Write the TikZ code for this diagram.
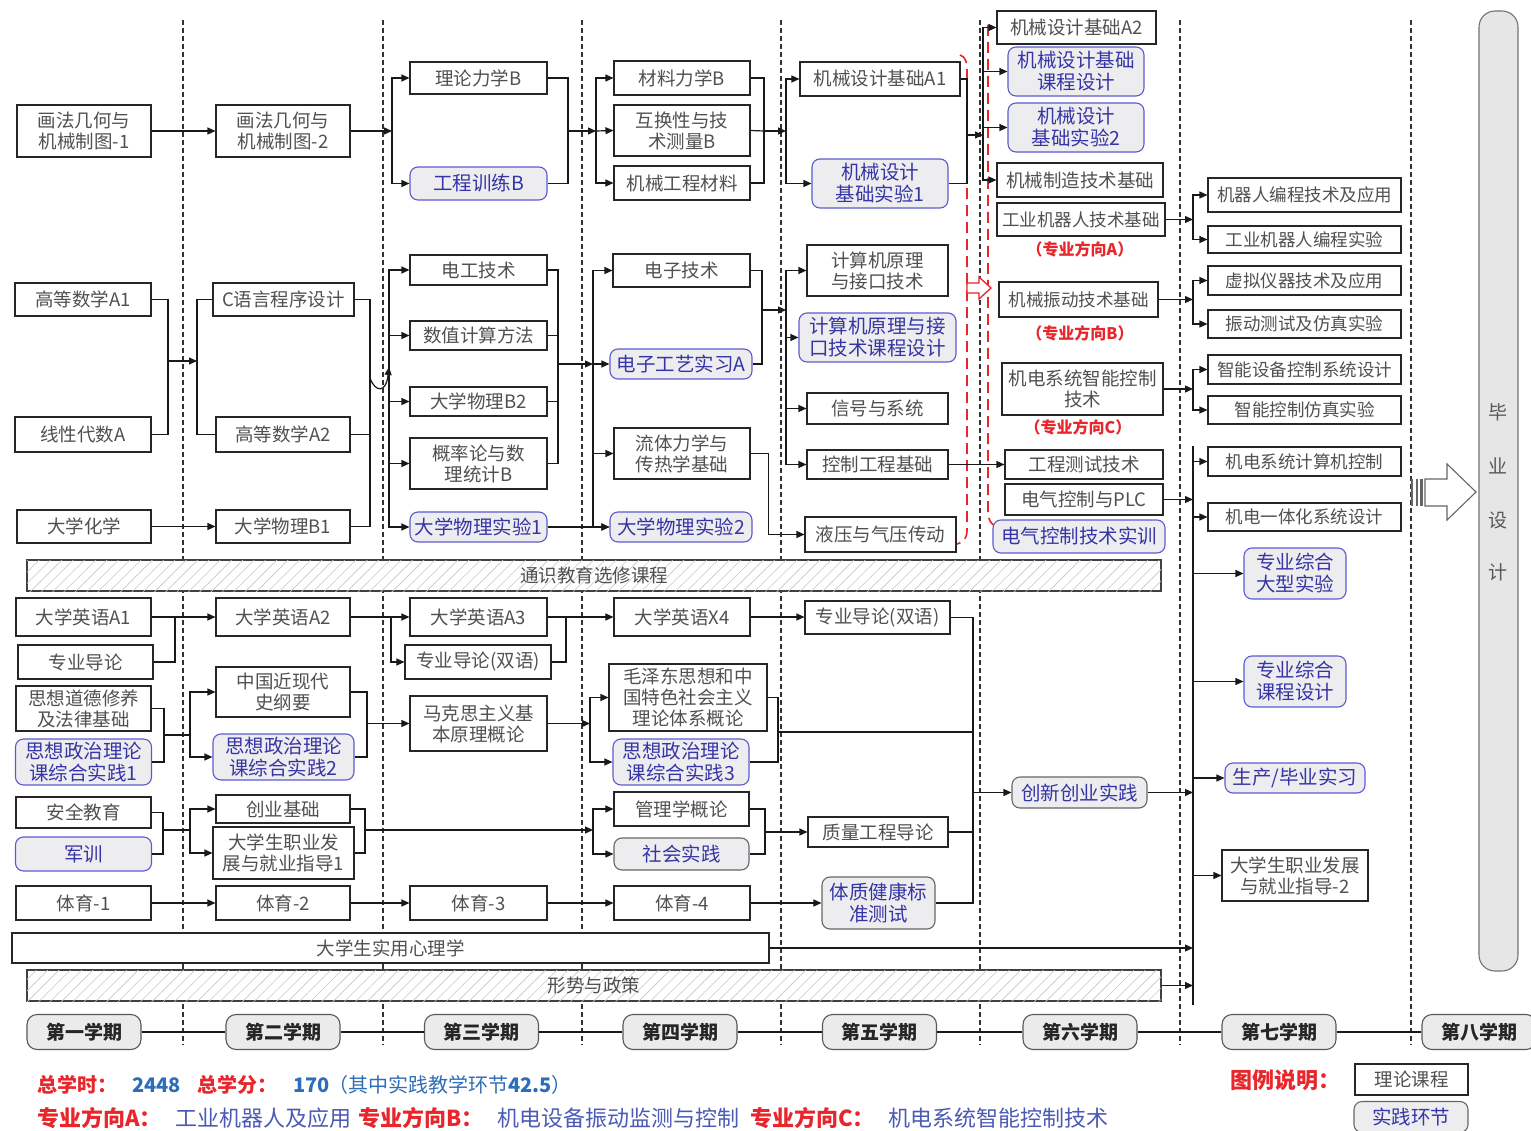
\documentclass[tikz,border=0pt]{standalone}
\usepackage{fontspec}
\setmainfont{Noto Sans CJK SC}
\usetikzlibrary{arrows.meta,patterns.meta}
\definecolor{thtxt}{HTML}{505050}
\definecolor{prtxt}{HTML}{3535A5}
\definecolor{prb}{HTML}{5B5BD0}
\definecolor{prfill}{HTML}{EDEDF0}
\definecolor{rd}{HTML}{E8262B}
\definecolor{bl}{HTML}{2E6DB8}
\definecolor{bl2}{HTML}{4B5AB5}
\definecolor{semfill}{HTML}{EBEBEB}
\definecolor{gdfill}{HTML}{E6E6E6}
\newcommand\thfs{\fontsize{18.5}{21}\selectfont}
\newcommand\smfs{\fontsize{17.5}{21}\selectfont}
\newcommand\prfs{\fontsize{19.5}{22}\selectfont}
\tikzset{
 wh/.style 2 args={minimum width=#1pt, minimum height=#2pt},
 th/.style={draw=black!85, line width=1.1pt, fill=white, inner sep=0pt, align=center, font=\thfs, text=thtxt},
 pr/.style={draw=prb, line width=1.1pt, fill=prfill, rounded corners=8pt, inner sep=0pt, align=center, font=\prfs, text=prtxt},
 prg/.style={pr, draw=black!60},
 ban/.style={draw=black!75, line width=1.1pt, fill=white, inner sep=0pt, font=\thfs, text=thtxt,
   postaction={pattern={Lines[angle=45,distance=8pt,line width=0.6pt]}, pattern color=black!22}},
 sem/.style={draw=black!65, fill=semfill, rounded corners=10pt, line width=1.1pt, inner sep=0pt,
   font=\fontsize{19}{22}\selectfont\bfseries, text=black!85, minimum width=114pt, minimum height=35pt},
 dir/.style={inner sep=0pt, text=rd, font=\fontsize{16}{18}\selectfont\bfseries},
 byt/.style={inner sep=0pt, text=black!65, font=\fontsize{19}{22}\selectfont},
 bt/.style={anchor=west, inner sep=0pt, font=\fontsize{20}{24}\selectfont},
 bt2/.style={anchor=west, inner sep=0pt, font=\fontsize{22}{26}\selectfont},
 ln/.style={line width=1.2pt, draw=black!90},
 arr/.style={ln, -{Triangle[length=8pt,width=7pt]}},
 sep/.style={line width=1.2pt, draw=black!80, dash pattern=on 5pt off 3pt},
 rdash/.style={line width=1.6pt, draw=rd, dash pattern=on 11pt off 6pt},
}
\begin{document}
\begin{tikzpicture}[x=1pt,y=-1pt]
\useasboundingbox (0,0) rectangle (1531,1131);
\fill[white] (0,0) rectangle (1531,1131);

% semester separators
\foreach \x in {183,383,582,781,980,1180,1411} \draw[sep] (\x,20) -- (\x,1045);
% red dashed direction lines
\draw[rdash] (960,55) .. controls (966,57) and (967,62) .. (967,72) -- (967,530) .. controls (967,538) and (964,542) .. (957,544);
\draw[rdash] (988,25) -- (988,512) .. controls (988,520) and (991,525) .. (999,528);
\draw[rd, line width=1.3pt, fill=white] (967,283) -- (979,283) -- (979,277) -- (991,288) -- (979,299) -- (979,293) -- (967,293) -- cycle;

% ---------- column 1 ----------
\node[th,wh={134}{52}] (hf1) at (84,131) {画法几何与\\机械制图-1};
\node[th,wh={136}{33}] (gs1) at (83,299.5) {高等数学A1};
\node[th,wh={136}{35}] (xd) at (83,434.5) {线性代数A};
\node[th,wh={134}{33}] (dh) at (84,526.5) {大学化学};
\node[th,wh={135}{38}] (ya1) at (83.5,617) {大学英语A1};
\node[th,wh={135}{34}] (zy1) at (85.5,662) {专业导论};
\node[th,wh={135}{45}] (sx) at (83.5,708.5) {思想道德修养\\及法律基础};
\node[pr,wh={136}{46}] (sz1) at (83.5,762) {思想政治理论\\课综合实践1};
\node[th,wh={135}{31}] (aq) at (83.5,812.5) {安全教育};
\node[pr,wh={136}{34}] (jx) at (83.5,854) {军训};
\node[th,wh={135}{34}] (ty1) at (83.5,903) {体育-1};

% ---------- column 2 ----------
\node[th,wh={134}{52}] (hf2) at (283,131) {画法几何与\\机械制图-2};
\node[th,wh={141}{33}] (cyy) at (283.5,299.5) {C语言程序设计};
\node[th,wh={134}{35}] (gs2) at (283,434.5) {高等数学A2};
\node[th,wh={134}{33}] (wl1) at (283,526.5) {大学物理B1};
\node[th,wh={134}{38}] (ya2) at (283,617) {大学英语A2};
\node[th,wh={134}{50}] (zg) at (283,692) {中国近现代\\史纲要};
\node[pr,wh={141}{46}] (sz2) at (283.5,757) {思想政治理论\\课综合实践2};
\node[th,wh={134}{28}] (cy) at (283,809) {创业基础};
\node[th,wh={141}{52}] (zyb1) at (283.5,853) {大学生职业发\\展与就业指导1};
\node[th,wh={134}{34}] (ty2) at (283,903) {体育-2};

% ---------- column 3 ----------
\node[th,wh={137}{32}] (ll) at (478.5,78) {理论力学B};
\node[pr,wh={137}{33}] (gx) at (478.5,183.5) {工程训练B};
\node[th,wh={137}{30}] (dg) at (478.5,270) {电工技术};
\node[th,wh={137}{29}] (sz) at (478.5,335.5) {数值计算方法};
\node[th,wh={137}{29}] (wl2) at (478.5,401.5) {大学物理B2};
\node[th,wh={137}{51}] (gl) at (478.5,463.5) {概率论与数\\理统计B};
\node[pr,wh={137}{30}] (wsy1) at (478.5,527) {大学物理实验1};
\node[th,wh={137}{38}] (ya3) at (478.5,617) {大学英语A3};
\node[th,wh={146}{34}] (zysy) at (478,662) {专业导论(双语)};
\node[th,wh={137}{55}] (mks) at (478.5,723.5) {马克思主义基\\本原理概论};
\node[th,wh={137}{34}] (ty3) at (478.5,903) {体育-3};

% ---------- column 4 ----------
\node[th,wh={136}{34}] (cl) at (682,78) {材料力学B};
\node[th,wh={136}{51}] (hh) at (682,130.5) {互换性与技\\术测量B};
\node[th,wh={136}{34}] (jxcl) at (682,183) {机械工程材料};
\node[th,wh={137}{33}] (dz) at (681.5,270.5) {电子技术};
\node[pr,wh={142}{30}] (dzgy) at (681,364) {电子工艺实习A};
\node[th,wh={136}{51}] (lt) at (682,453.5) {流体力学与\\传热学基础};
\node[pr,wh={142}{30}] (wsy2) at (681,527) {大学物理实验2};
\node[th,wh={136}{38}] (yx4) at (682,617) {大学英语X4};
\node[th,wh={158}{67}] (mzd) at (688,697.5) {毛泽东思想和中\\国特色社会主义\\理论体系概论};
\node[pr,wh={136}{46}] (sz3) at (681,762) {思想政治理论\\课综合实践3};
\node[th,wh={135}{34}] (glx) at (681.5,809) {管理学概论};
\node[prg,wh={135}{32}] (sh) at (681.5,854) {社会实践};
\node[th,wh={136}{34}] (ty4) at (682,903) {体育-4};

% ---------- column 5 ----------
\node[th,wh={160}{34}] (a1) at (880,79) {机械设计基础A1};
\node[pr,wh={136}{49}] (sy1) at (880,183.5) {机械设计\\基础实验1};
\node[th,wh={141}{51}] (jsj) at (877.5,270.5) {计算机原理\\与接口技术};
\node[pr,wh={157}{49}] (jsjk) at (877.5,337.5) {计算机原理与接\\口技术课程设计};
\node[th,wh={141}{31}] (xh) at (877.5,408.5) {信号与系统};
\node[th,wh={141}{29}] (kz) at (877.5,464.5) {控制工程基础};
\node[th,wh={151}{35}] (yy) at (880.5,534.5) {液压与气压传动};
\node[th,wh={145}{33}] (zysy5) at (877.5,617.5) {专业导论(双语)};
\node[th,wh={140}{30}] (zl) at (878,832) {质量工程导论};
\node[prg,wh={113}{52}] (tz) at (878.5,903) {体质健康标\\准测试};

% ---------- column 6 ----------
\node[th,wh={159}{33}] (a2) at (1076.5,27.5) {机械设计基础A2};
\node[pr,wh={136}{49}] (kcsj) at (1076,71.5) {机械设计基础\\课程设计};
\node[pr,wh={136}{49}] (sy2) at (1076,127.5) {机械设计\\基础实验2};
\node[th,wh={166}{34}] (zz) at (1080,180) {机械制造技术基础};
\node[th,wh={168}{33},font=\smfs] (gy) at (1081,219.5) {工业机器人技术基础};
\node[th,wh={159}{35},font=\smfs] (zd) at (1078.5,299.5) {机械振动技术基础};
\node[th,wh={161}{52}] (jd) at (1082.5,389) {机电系统智能控制\\技术};
\node[th,wh={158}{29}] (gc) at (1084,464.5) {工程测试技术};
\node[th,wh={158}{31}] (plc) at (1084,499.5) {电气控制与PLC};
\node[pr,wh={172}{33}] (sx6) at (1079,536.5) {电气控制技术实训};
\node[prg,wh={135}{31}] (cx) at (1079.5,792.5) {创新创业实践};
\node[dir] (fa) at (1080,249) {（专业方向A）};
\node[dir] (fb) at (1080,333) {（专业方向B）};
\node[dir] (fc) at (1078,427) {（专业方向C）};

% ---------- column 7 ----------
\node[th,wh={193}{34},font=\smfs] (c1) at (1304.5,195) {机器人编程技术及应用};
\node[th,wh={193}{27},font=\smfs] (c2) at (1304.5,239.5) {工业机器人编程实验};
\node[th,wh={193}{29},font=\smfs] (c3) at (1304.5,280.5) {虚拟仪器技术及应用};
\node[th,wh={193}{28},font=\smfs] (c4) at (1304.5,324) {振动测试及仿真实验};
\node[th,wh={193}{29},font=\smfs] (c5) at (1304.5,369.5) {智能设备控制系统设计};
\node[th,wh={193}{28},font=\smfs] (c6) at (1304.5,410) {智能控制仿真实验};
\node[th,wh={193}{29},font=\smfs] (c7) at (1304.5,461.5) {机电系统计算机控制};
\node[th,wh={193}{28},font=\smfs] (c8) at (1304.5,517) {机电一体化系统设计};
\node[pr,wh={102}{51}] (zh1) at (1295,573.5) {专业综合\\大型实验};
\node[pr,wh={102}{51}] (zh2) at (1295,681.5) {专业综合\\课程设计};
\node[pr,wh={140}{30}] (sc) at (1295,778) {生产/毕业实习};
\node[th,wh={146}{51}] (zy2) at (1295,875.5) {大学生职业发展\\与就业指导-2};

% ---------- banners ----------
\node[ban,wh={1134}{31}] (ts) at (594,575.5) {通识教育选修课程};
\node[th,wh={757}{30}] (xl) at (390.5,948) {大学生实用心理学};
\node[ban,wh={1134}{31}] (xs) at (594,985.5) {形势与政策};

% ---------- graduation design ----------
\node[draw=black!55, fill=gdfill, rounded corners=16pt, line width=1.1pt, wh={39}{960}, inner sep=0pt] (by) at (1498.5,491) {};
\node[byt] (by1) at (1498,412) {毕};
\node[byt] (by2) at (1498,466) {业};
\node[byt] (by3) at (1498,520) {设};
\node[byt] (by4) at (1498,572) {计};
\draw[line width=1.1pt, draw=black!60, fill=white] (1425,479) -- (1447,479) -- (1447,464) -- (1476,492) -- (1447,520) -- (1447,506) -- (1425,506) -- cycle;
\fill[black!60] (1411,479) rectangle (1413,506);
\fill[black!60] (1415.5,479) rectangle (1418,506);
\fill[black!60] (1420,479) rectangle (1422.5,506);

% ---------- semesters ----------
\node[sem] (s1) at (84,1032) {第一学期};
\node[sem] (s2) at (283,1032) {第二学期};
\node[sem] (s3) at (481.5,1032) {第三学期};
\node[sem] (s4) at (680,1032) {第四学期};
\node[sem] (s5) at (879.5,1032) {第五学期};
\node[sem] (s6) at (1080,1032) {第六学期};
\node[sem] (s7) at (1279,1032) {第七学期};
\node[sem] (s8) at (1479,1032) {第八学期};
\draw[ln] (s1) -- (s2);
\draw[ln] (s2) -- (s3);
\draw[ln] (s3) -- (s4);
\draw[ln] (s4) -- (s5);
\draw[ln] (s5) -- (s6);
\draw[ln] (s6) -- (s7);
\draw[ln] (s7) -- (s8);

% ---------- legend and totals ----------
\node[inner sep=0pt, text=rd, font=\fontsize{22}{26}\selectfont\bfseries] (lg) at (1285,1080) {图例说明：};
\node[th,wh={113}{31}] (lg1) at (1411.5,1079.5) {理论课程};
\node[prg,wh={114}{31}] (lg2) at (1411,1117) {实践环节};

\node[bt, text=rd] (t1) at (37,1085) {\bfseries 总学时：};
\node[bt, text=bl] (t2) at (132,1085) {\bfseries 2448};
\node[bt, text=rd] (t3) at (197,1085) {\bfseries 总学分：};
\node[bt, text=bl] (t4) at (293,1085) {\bfseries 170};
\node[bt, text=bl] (t5) at (328,1085) {（其中实践教学环节\textbf{42.5}）};
\node[bt2, text=rd] (u1) at (37,1118) {\bfseries 专业方向A：};
\node[bt2, text=bl2] (u2) at (175,1118) {工业机器人及应用};
\node[bt2, text=rd] (u3) at (358,1118) {\bfseries 专业方向B：};
\node[bt2, text=bl2] (u4) at (497,1118) {机电设备振动监测与控制};
\node[bt2, text=rd] (u5) at (750,1118) {\bfseries 专业方向C：};
\node[bt2, text=bl2] (u6) at (888,1118) {机电系统智能控制技术};

% ================= connectors =================
% drawing row
\draw[arr] (hf1) -- (hf2);
\coordinate (j1) at (392,131);
\draw[arr] (hf2.east) -- (j1);
\draw[arr] (j1) |- (ll.west);
\draw[arr] (j1) |- (gx.west);
\coordinate (m2) at (568,131);
\coordinate (j2) at (596,131);
\draw[ln] (ll.east) -| (m2);
\draw[ln] (gx.east) -| (m2);
\draw[arr] (m2) -- (j2);
\draw[arr] (j2) |- (cl.west);
\draw[arr] (j2) -- (hh.west);
\draw[arr] (j2) |- (jxcl.west);
\coordinate (m3) at (764,131);
\coordinate (j3) at (786,131);
\draw[ln] (cl.east) -| (m3);
\draw[ln] (jxcl.east) -| (m3);
\draw[ln] (hh.east) -- (m3);
\draw[arr] (m3) -- (j3);
\draw[arr] (j3) |- (a1.west);
\draw[arr] (j3) |- (sy1.west);
\coordinate (m4) at (967,135);
\coordinate (j4) at (983,135);
\draw[ln] (a1.east) -| (m4);
\draw[ln] (sy1.east) -| (m4);
\draw[arr] (m4) -- (j4);
\draw[arr] (j4) |- (a2.west);
\draw[arr] (j4) |- (kcsj.west);
\draw[arr] (j4) |- (sy2.west);
\draw[arr] (j4) |- (zz.west);

% direction branches
\coordinate (j5) at (1193,219.5);
\draw[arr] (gy.east) -- (j5);
\draw[arr] (j5) |- (c1.west);
\draw[arr] (j5) |- (c2.west);
\coordinate (j6) at (1193,299.5);
\draw[arr] (zd.east) -- (j6);
\draw[arr] (j6) |- (c3.west);
\draw[arr] (j6) |- (c4.west);
\coordinate (j7) at (1193,389);
\draw[arr] (jd.east) -- (j7);
\draw[arr] (j7) |- (c5.west);
\draw[arr] (j7) |- (c6.west);

% math / physics rows
\coordinate (m5) at (168,361);
\coordinate (j8) at (197,361);
\draw[ln] (gs1.east) -| (m5);
\draw[ln] (xd.east) -| (m5);
\draw[arr] (m5) -- (j8);
\draw[ln] (j8) |- (cyy.west);
\draw[ln] (j8) |- (gs2.west);
\draw[arr] (dh) -- (wl1);
\coordinate (m6) at (370,378);
\draw[ln] (cyy.east) -| (m6);
\draw[ln] (gs2.east) -| (m6);
\draw[ln] (wl1.east) -| (m6);
\coordinate (j9) at (389,367);
\draw[arr] (m6) .. controls (375,392) and (386,394) .. (j9);
\draw[arr] (j9) |- (dg.west);
\draw[arr] (j9) |- (sz.west);
\draw[arr] (j9) |- (wl2.west);
\draw[arr] (j9) |- (gl.west);
\draw[arr] (j9) |- (wsy1.west);
\coordinate (m7) at (558,364);
\coordinate (j10) at (593,364);
\draw[ln] (dg.east) -| (m7);
\draw[ln] (sz.east) -| (m7);
\draw[ln] (wl2.east) -| (m7);
\draw[ln] (gl.east) -| (m7);
\draw[arr] (m7) -- (j10);
\draw[arr] (j10) |- (dz.west);
\draw[arr] (j10) -- (dzgy.west);
\draw[arr] (j10) |- (lt.west);
\draw[arr] (j10) |- (wsy2.west);
\draw[arr] (wsy1) -- (wsy2);
\coordinate (m8) at (762,310);
\coordinate (j11) at (786,310);
\draw[ln] (dz.east) -| (m8);
\draw[ln] (dzgy.east) -| (m8);
\draw[arr] (m8) -- (j11);
\draw[arr] (j11) |- (jsj.west);
\draw[arr] (j11) |- (jsjk.west);
\draw[arr] (j11) |- (xh.west);
\draw[arr] (j11) |- (kz.west);
\draw[arr] (lt.east) -- ++(18,0) |- (yy.west);
\draw[arr] (kz) -- (gc);

% column 7 bus
\coordinate (b7t) at (1193,446);
\coordinate (b7b) at (1193,1005);
\draw[ln] (b7t) -- (b7b);
\draw[arr] (plc.east) -- (b7t |- plc.east);
\draw[arr] (cx.east) -- (b7t |- cx.east);
\draw[arr] (xl.east) -- (b7t |- xl.east);
\draw[arr] (xs.east) -- (b7t |- xs.east);
\draw[arr] (b7t |- c7.west) -- (c7.west);
\draw[arr] (b7t |- c8.west) -- (c8.west);
\draw[arr] (b7t |- zh1.west) -- (zh1.west);
\draw[arr] (b7t |- zh2.west) -- (zh2.west);
\draw[arr] (b7t |- sc.west) -- (sc.west);
\draw[arr] (b7t |- zy2.west) -- (zy2.west);

% English row
\coordinate (m9) at (175,617);
\draw[arr] (ya1) -- (ya2);
\draw[ln] (zy1.east) -| (m9);
\coordinate (j12) at (391,617);
\draw[arr] (ya2) -- (ya3);
\draw[arr] (j12) |- (zysy.west);
\coordinate (m12b) at (566,617);
\draw[arr] (ya3) -- (yx4);
\draw[ln] (zysy.east) -| (m12b);
\draw[arr] (yx4.east) -- (zysy5.west |- yx4.east);

% politics rows
\coordinate (m10) at (164,735);
\coordinate (j13) at (190,735);
\draw[ln] (sx.east) -| (m10);
\draw[ln] (sz1.east) -| (m10);
\draw[ln] (m10) -- (j13);
\draw[arr] (j13) |- (zg.west);
\draw[arr] (j13) |- (sz2.west);
\coordinate (m11) at (367,723.5);
\draw[ln] (zg.east) -| (m11);
\draw[ln] (sz2.east) -| (m11);
\draw[arr] (m11) -- (mks.west);
\coordinate (j14) at (590,723.5);
\draw[arr] (mks.east) -- (j14);
\draw[arr] (j14) |- (mzd.west);
\draw[arr] (j14) |- (sz3.west);
\coordinate (m12) at (778,732);
\draw[ln] (mzd.east) -| (m12);
\draw[ln] (sz3.east) -| (m12);

% safety / career rows
\coordinate (m13) at (163,830);
\coordinate (j15) at (190,830);
\draw[ln] (aq.east) -| (m13);
\draw[ln] (jx.east) -| (m13);
\draw[ln] (m13) -- (j15);
\draw[arr] (j15) |- (cy.west);
\draw[arr] (j15) |- (zyb1.west);
\coordinate (m14) at (365,830);
\coordinate (j16) at (593,830);
\draw[ln] (cy.east) -| (m14);
\draw[ln] (zyb1.east) -| (m14);
\draw[arr] (m14) -- (j16);
\draw[arr] (j16) |- (glx.west);
\draw[arr] (j16) |- (sh.west);
\coordinate (m15) at (765,832);
\draw[ln] (glx.east) -| (m15);
\draw[ln] (sh.east) -| (m15);
\draw[arr] (m15) -- (zl.west);

% PE row
\draw[arr] (ty1) -- (ty2);
\draw[arr] (ty2) -- (ty3);
\draw[arr] (ty3) -- (ty4);
\draw[arr] (ty4) -- (tz);

% column 5 bus
\coordinate (b5t) at (973,617.5);
\coordinate (b5b) at (973,903);
\draw[ln] (zysy5.east) -- (b5t) -- (b5b) -- (tz.east);
\draw[ln] (zl.east) -- (b5t |- zl.east);
\draw[ln] (m12) -- (b5t |- m12);
\draw[arr] (b5t |- cx.west) -- (cx.west);
\end{tikzpicture}
\end{document}
